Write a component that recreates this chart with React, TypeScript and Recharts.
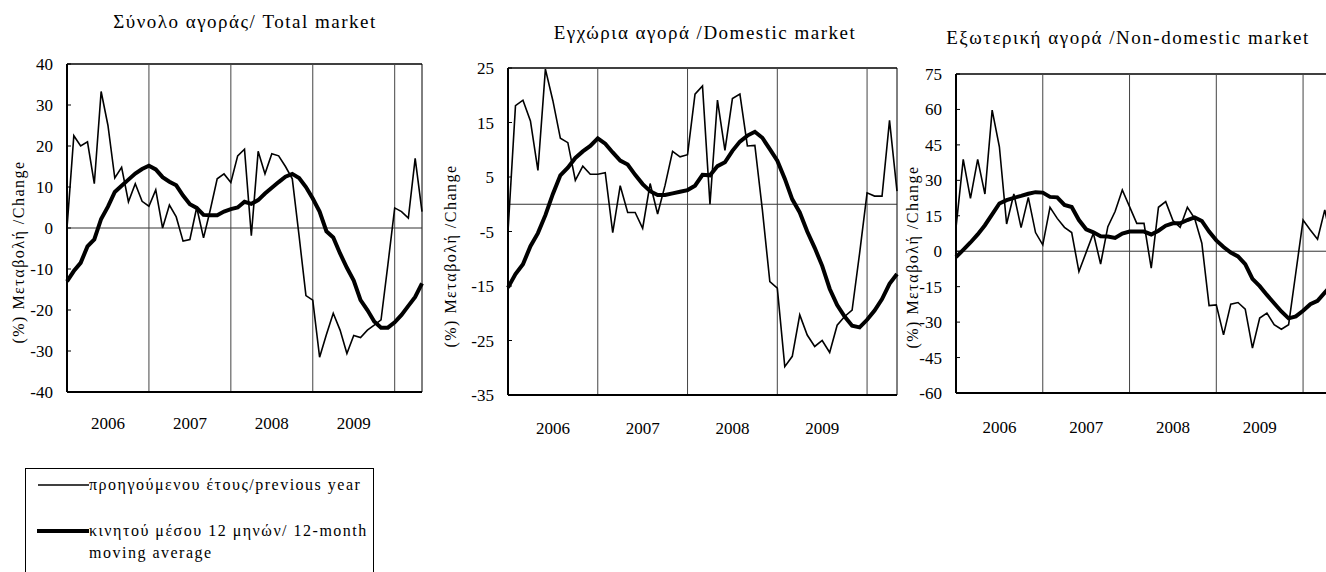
import React from "react";
import { LineChart, Line, XAxis, YAxis, ReferenceLine } from "recharts";

// months Jan 2006 .. May 2010, index 0..52
const years = ["2006", "2007", "2008", "2009"];
const yearTicks = [6, 18, 30, 42];
const yearStarts = [12, 24, 36, 48];
const lastMonth = 52;

const totalPrev = [
  0, 22.5, 20, 21, 10.8, 33.3, 25, 12.2, 14.8, 6.4, 10.8, 6.5,
  5.3, 9.3, 0, 5.6, 2.7, -3.2, -2.8, 5, -2.4, 4.5, 12, 13.2,
  11.1, 17.6, 19.2, -1.9, 18.7, 13.2, 18.1, 17.6, 15, 12, -2, -16.5,
  -17.6, -31.5, -26, -20.8, -24.9, -30.6, -26.2, -26.7, -24.9, -23.7, -22.4, -9,
  4.9, 4, 2.4, 17, 4,
];
const totalAvg = [
  -13, -10.5, -8.5, -4.5, -2.8, 2.2, 5.2, 8.8, 10.3, 11.8, 13.3, 14.4,
  15.2, 14.3, 12.4, 11.3, 10.4, 7.9, 5.8, 4.9, 3.2, 3.1, 3.1, 4.0,
  4.6, 5.0, 6.4, 5.9, 6.8, 8.4, 9.8, 11.2, 12.5, 13.2, 12.2, 10,
  7.2, 4, -0.8, -2.3, -6.2, -9.7, -12.8, -17.6, -20, -22.8, -24.3, -24.3,
  -23, -21.2, -19, -16.8, -13.5,
];

const domPrev = [
  -5, 18.1, 19.1, 15.3, 6.2, 24.8, 19, 12.1, 11.3, 4.4, 7, 5.5,
  5.5, 5.8, -5.2, 3.4, -1.5, -1.5, -4.4, 3.8, -1.8, 3.5, 9.7, 8.7,
  9.1, 20.2, 21.7, 0, 19.1, 9.9, 19.4, 20.2, 10.7, 10.8, -1, -14.2,
  -15.4, -29.8, -27.9, -20.3, -24, -26.1, -25, -27.2, -22.2, -20.6, -19.4, -9,
  2.1, 1.5, 1.5, 15.4, 2.4,
];
const domAvg = [
  -15.3, -12.8, -11, -7.7, -5.3, -2, 1.9, 5.3, 6.7, 8.5, 9.7, 10.7,
  12.1, 11.1, 9.5, 8, 7.3, 5.4, 3.7, 2.4, 1.7, 1.7, 2, 2.3,
  2.6, 3.4, 5.4, 5.3, 7, 7.7, 9.8, 11.5, 12.6, 13.3, 12.2, 10.1,
  8, 4.7, 0.9, -1.5, -5, -8, -11.3, -15.5, -18.5, -20.6, -22.3, -22.6,
  -21.2, -19.5, -17.4, -14.6, -12.8,
];

const extPrev = [
  10, 38.9, 22.4, 38.9, 24.2, 59.7, 44.2, 11.5, 24.2, 10, 22.8, 7.9,
  2.7, 18.6, 13.9, 10.1, 7.9, -8.6, -0.5, 7.6, -5.4, 10.4, 16.8, 25.9,
  18.9, 11.8, 11.8, -7.2, 18.6, 21, 13, 10.1, 18.6, 13.9, 3.4, -23,
  -22.7, -35.4, -22.4, -21.7, -24.5, -41, -28.3, -26.2, -31.1, -33, -31.1, -9,
  13.2, 9, 5.1, 17.5, 3,
];
const extAvg = [
  -2.5, 0.6, 3.7, 7.1, 11, 15.6, 20.2, 21.6, 22.6, 23.4, 24.3, 25,
  24.8, 23, 22.8, 19.6, 18.7, 13.2, 9.3, 8, 6.3, 6.2, 5.6, 7.5,
  8.3, 8.3, 8.3, 7.1, 8.7, 10.8, 11.8, 11.8, 13.2, 14.3, 12.8, 8.3,
  4.6, 1.8, -0.6, -2.2, -5.5, -11.7, -14.8, -18.5, -22, -25.5, -28.4, -27.6,
  -25.2, -22.4, -21, -17.5, -14,
];

const totalTicks = [-40, -30, -20, -10, 0, 10, 20, 30, 40];
const domTicks = [-35, -25, -15, -5, 5, 15, 25];
const extTicks = [-60, -45, -30, -15, 0, 15, 30, 45, 60, 75];

const serif = "Liberation Serif, LiberationSerif, Tinos, DejaVu Serif, serif";
const yLabel = "(%) Μεταβολή /Change";

function rows(prev: number[], avg: number[]) {
  return prev.map((v, i) => ({ m: i, prev: v, avg: avg[i] }));
}

type PanelProps = {
  left: number;
  width: number;
  yWidth: number;
  plotTop: number;
  axisH: number;
  right: number;
  yearGap: number;
  prev: number[];
  avg: number[];
  ticks: number[];
};

function Panel(p: PanelProps) {
  const data = rows(p.prev, p.avg);
  const lo = p.ticks[0];
  const hi = p.ticks[p.ticks.length - 1];
  return (
    <div style={{ position: "absolute", left: p.left, top: 0 }}>
      <LineChart
        width={p.width}
        height={450}
        data={data}
        margin={{ top: p.plotTop, right: p.right, bottom: 0, left: 0 }}
        style={{ fontFamily: serif }}
      >
        <XAxis
          dataKey="m"
          type="number"
          domain={[0, lastMonth]}
          ticks={yearTicks}
          tickFormatter={(v) => years[yearTicks.indexOf(v)]}
          height={p.axisH}
          axisLine={{ stroke: "#000", strokeWidth: 2 }}
          tickLine={false}
          tickSize={0}
          tickMargin={p.yearGap}
          tick={{ fill: "#000", fontSize: 17, fontFamily: serif }}
        />
        <YAxis
          type="number"
          domain={[lo, hi]}
          ticks={p.ticks}
          interval={0}
          width={p.yWidth}
          axisLine={{ stroke: "#000", strokeWidth: 2 }}
          tickLine={{ stroke: "#000" }}
          tickSize={-4}
          tickMargin={18}
          tick={{ fill: "#000", fontSize: 17, fontFamily: serif }}
        />
        <ReferenceLine y={hi} stroke="#000" strokeWidth={1.5} />
        <ReferenceLine x={lastMonth} stroke="#000" strokeWidth={1} />
        <ReferenceLine y={0} stroke="#333" strokeWidth={1} />
        {yearStarts.map((x) => (
          <ReferenceLine key={x} x={x} stroke="#444" strokeWidth={1} />
        ))}
        <Line
          dataKey="prev"
          type="linear"
          stroke="#000"
          strokeWidth={1.6}
          dot={false}
          isAnimationActive={false}
        />
        <Line
          dataKey="avg"
          type="linear"
          stroke="#000"
          strokeWidth={4}
          dot={false}
          isAnimationActive={false}
        />
      </LineChart>
    </div>
  );
}

const textBase: React.CSSProperties = {
  position: "absolute",
  whiteSpace: "nowrap",
  fontFamily: serif,
  color: "#000",
  lineHeight: 1,
};

function Title({ x, y, text }: { x: number; y: number; text: string }) {
  return (
    <div
      style={{
        ...textBase,
        left: x,
        top: y,
        fontSize: 19,
        letterSpacing: 1.5,
        transform: "translate(-50%, -50%)",
      }}
    >
      {text}
    </div>
  );
}

function SideLabel({ x, y }: { x: number; y: number }) {
  return (
    <div
      style={{
        ...textBase,
        left: x,
        top: y,
        fontSize: 16,
        letterSpacing: 1.5,
        transform: "translate(-50%, -50%) rotate(-90deg)",
      }}
    >
      {yLabel}
    </div>
  );
}

export default function App() {
  return (
    <div
      style={{
        position: "fixed",
        left: 0,
        top: 0,
        width: 1326,
        height: 572,
        overflow: "hidden",
        background: "#fff",
      }}
    >
      <Panel
        left={0}
        width={440}
        yWidth={67}
        plotTop={64}
        axisH={58}
        right={18}
        yearGap={25}
        prev={totalPrev}
        avg={totalAvg}
        ticks={totalTicks}
      />
      <Panel
        left={440}
        width={470}
        yWidth={68}
        plotTop={68}
        axisH={55}
        right={13}
        yearGap={27}
        prev={domPrev}
        avg={domAvg}
        ticks={domTicks}
      />
      <Panel
        left={900}
        width={450}
        yWidth={56}
        plotTop={74}
        axisH={57}
        right={18}
        yearGap={28}
        prev={extPrev}
        avg={extAvg}
        ticks={extTicks}
      />

      <Title x={245} y={21} text="Σύνολο αγοράς/ Total market" />
      <Title x={705} y={32} text="Εγχώρια αγορά /Domestic market" />
      <Title x={1128} y={37} text="Εξωτερική αγορά /Non-domestic market" />

      <SideLabel x={19} y={252} />
      <SideLabel x={451} y={256} />
      <SideLabel x={913} y={257} />

      <div
        style={{
          position: "absolute",
          left: 25,
          top: 468,
          width: 347,
          height: 140,
          border: "1px solid #000",
          background: "#fff",
        }}
      >
        <svg
          width={56}
          height={80}
          style={{ position: "absolute", left: 10, top: 0 }}
        >
          <line x1={2} x2={53} y1={16} y2={16} stroke="#000" strokeWidth={1.6} />
          <line x1={1} x2={53} y1={62} y2={62} stroke="#000" strokeWidth={4} />
        </svg>
        <div style={{ ...textBase, left: 63, top: 16, fontSize: 16, letterSpacing: 1.5, transform: "translateY(-50%)" }}>
          προηγούμενου έτους/previous year
        </div>
        <div style={{ ...textBase, left: 63, top: 62, fontSize: 16, letterSpacing: 1.5, transform: "translateY(-50%)" }}>
          κινητού μέσου 12 μηνών/ 12-month
        </div>
        <div style={{ ...textBase, left: 63, top: 84, fontSize: 16, letterSpacing: 1.5, transform: "translateY(-50%)" }}>
          moving average
        </div>
      </div>
    </div>
  );
}
